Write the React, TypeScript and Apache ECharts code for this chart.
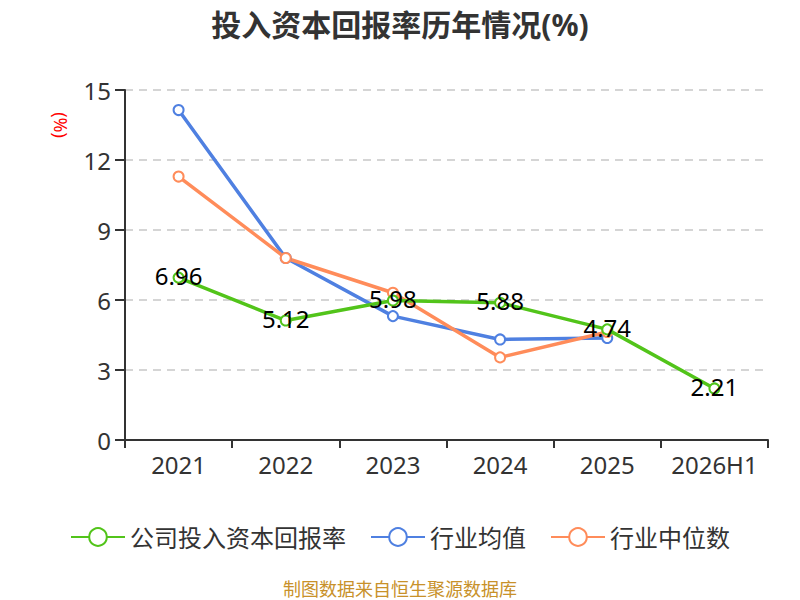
import React, { useEffect, useRef } from "react";
import * as echarts from "echarts";

const categories = ["2021", "2022", "2023", "2024", "2025", "2026H1"];
const companyValues = [6.96, 5.12, 5.98, 5.88, 4.74, 2.21];
const industryAvg = [14.14, 7.8, 5.31, 4.31, 4.37, null];
const industryMedian = [11.29, 7.8, 6.31, 3.54, 4.63, null];
const yTicks = { min: 0, max: 15, interval: 3 };

export default function App() {
  const ref = useRef<HTMLDivElement>(null);
  useEffect(() => {
    if (!ref.current) return;
    const chart = echarts.init(ref.current, undefined, { renderer: "svg" });
    const font = "'Noto Sans', 'Noto Sans CJK SC', sans-serif";
    chart.setOption({
      animation: false,
      textStyle: { fontFamily: font },
      title: [
        {
          text: "投入资本回报率历年情况(%)",
          left: "center",
          top: 4,
          textStyle: { fontSize: 30, fontWeight: "bold", color: "#333", fontFamily: font },
        },
        {
          text: "制图数据来自恒生聚源数据库",
          left: "center",
          top: 580,
          padding: 0,
          textStyle: { fontSize: 18, fontWeight: "normal", color: "#c8912a", fontFamily: font },
        },
      ],
      grid: { left: 125, right: 32, top: 90, bottom: 160 },
      legend: {
        top: 520,
        left: "center",
        itemWidth: 54,
        itemHeight: 22,
        itemGap: 24,
        textStyle: { fontSize: 24, color: "#333", fontFamily: font },
        data: ["公司投入资本回报率", "行业均值", "行业中位数"],
      },
      xAxis: {
        type: "category",
        data: categories,
        axisLine: { lineStyle: { color: "#333", width: 2 } },
        axisTick: { show: true, interval: 0, length: 8, lineStyle: { color: "#333", width: 2 } },
        axisLabel: { interval: 0, fontSize: 24, color: "#333", margin: 12 },
      },
      yAxis: {
        type: "value",
        min: yTicks.min,
        max: yTicks.max,
        interval: yTicks.interval,
        axisLine: { show: true, lineStyle: { color: "#333", width: 2 } },
        axisTick: { show: true, length: 10, lineStyle: { color: "#333", width: 2 } },
        axisLabel: { fontSize: 24, color: "#333", margin: 14 },
        splitLine: { lineStyle: { type: [8, 6], color: "#c8c8c8", width: 1.5 } },
      },
      graphic: [
        {
          type: "text",
          x: 61,
          y: 125,
          rotation: -Math.PI / 2,
          style: {
            text: "(%)",
            fill: "#ff0000",
            fontSize: 18,
            fontFamily: font,
            align: "center",
            verticalAlign: "middle",
          },
        },
      ],
      series: [
        {
          name: "公司投入资本回报率",
          type: "line",
          data: companyValues,
          symbol: "emptyCircle",
          symbolSize: 10,
          lineStyle: { width: 3.5, color: "#52c41a" },
          itemStyle: { color: "#52c41a", borderWidth: 2 },
          label: {
            show: true,
            position: "inside",
            fontSize: 24,
            color: "#000",
            fontFamily: font,
            offset: [0, -2],
          },
          z: 3,
        },
        {
          name: "行业均值",
          type: "line",
          data: industryAvg,
          symbol: "emptyCircle",
          symbolSize: 10,
          lineStyle: { width: 3.5, color: "#4f80e1" },
          itemStyle: { color: "#4f80e1", borderWidth: 2 },
          z: 2,
        },
        {
          name: "行业中位数",
          type: "line",
          data: industryMedian,
          symbol: "emptyCircle",
          symbolSize: 10,
          lineStyle: { width: 3.5, color: "#ff8c5a" },
          itemStyle: { color: "#ff8c5a", borderWidth: 2 },
          z: 2,
        },
      ],
    });
    return () => chart.dispose();
  }, []);
  return (
    <div
      ref={ref}
      style={{ position: "absolute", left: 0, top: 0, width: 800, height: 600 }}
    />
  );
}
